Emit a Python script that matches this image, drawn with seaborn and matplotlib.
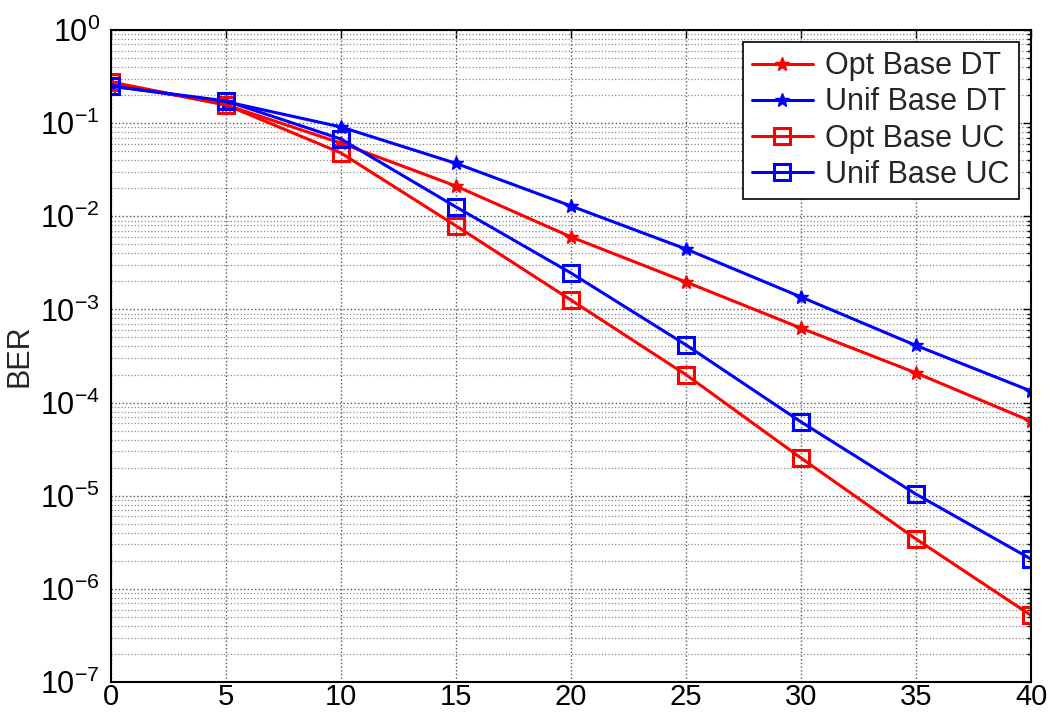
import numpy as np
import pandas as pd
import matplotlib
matplotlib.use("Agg")
import matplotlib.pyplot as plt
import seaborn as sns
from matplotlib.ticker import LogLocator, MultipleLocator, NullFormatter

snr = [0, 5, 10, 15, 20, 25, 30, 35, 40]
opt_dt = [0.27, 0.157, 0.061, 0.0211, 0.0060, 0.00197, 6.3e-4, 2.08e-4, 6.3e-5]
unif_dt = [0.25, 0.170, 0.091, 0.037, 0.0129, 0.00445, 1.36e-3, 4.1e-4, 1.33e-4]
opt_uc = [0.277, 0.157, 0.0478, 0.0079, 0.00126, 1.99e-4, 2.54e-5, 3.43e-6, 5.2e-7]
unif_uc = [0.25, 0.173, 0.0675, 0.0126, 0.00246, 4.16e-4, 6.2e-5, 1.04e-5, 2.09e-6]
labels = ["Opt Base DT", "Unif Base DT", "Opt Base UC", "Unif Base UC"]

sns.set_style("white")
plt.rcParams['font.family'] = ['Liberation Sans', 'DejaVu Sans']
plt.rcParams['mathtext.fontset'] = 'custom'
plt.rcParams['mathtext.rm'] = 'Liberation Sans'
plt.rcParams['mathtext.it'] = 'Liberation Sans'

fig = plt.figure(figsize=(10.56, 7.19), dpi=100)
ax = fig.add_axes([111/1056, 1-682/719, (1031-111)/1056, (682-30)/719])

series = [
    (opt_dt, labels[0], 'red', '*'),
    (unif_dt, labels[1], 'blue', '*'),
    (opt_uc, labels[2], 'red', 's'),
    (unif_uc, labels[3], 'blue', 's'),
]
for vals, lab, col, mk in series:
    df = pd.DataFrame({"SNR": snr, "BER": vals})
    if mk == 's':
        sns.lineplot(data=df, x="SNR", y="BER", ax=ax, color=col, marker='s',
                     markersize=11, markerfacecolor='none', markeredgecolor=col,
                     markeredgewidth=2.2, linewidth=2.2, label=lab)
    else:
        sns.lineplot(data=df, x="SNR", y="BER", ax=ax, color=col, marker='*',
                     markersize=10, markerfacecolor=col, markeredgecolor=col,
                     markeredgewidth=1.0, linewidth=2.2, label=lab)

ax.set_yscale('log')
ax.set_xlim(0, 40)
ax.set_ylim(1e-7, 1)
ax.xaxis.set_major_locator(MultipleLocator(5))
ax.yaxis.set_major_locator(LogLocator(base=10, numticks=20))
ax.yaxis.set_minor_locator(LogLocator(base=10, subs=np.arange(2, 10), numticks=100))
ax.yaxis.set_minor_formatter(NullFormatter())

ax.grid(True, which='major', axis='both', linestyle=':', color='0.35', linewidth=1.0)
ax.grid(True, which='minor', axis='y', linestyle=':', color='0.55', linewidth=0.9)

ax.tick_params(axis='both', which='both', direction='in', top=True, right=True,
               colors='black', width=1.0)
ax.tick_params(axis='y', which='major', labelsize=22, pad=8)
ax.tick_params(axis='x', which='major', labelsize=21, pad=1)
ax.tick_params(axis='both', which='major', length=6)
ax.tick_params(axis='y', which='minor', length=3)

for sp in ax.spines.values():
    sp.set_color('black')
    sp.set_linewidth(1.5)

ax.set_xlabel("")
ax.set_ylabel("BER", fontsize=22, labelpad=4)

leg = ax.legend(loc='upper right', fontsize=22, frameon=True, fancybox=False,
                edgecolor='black', framealpha=1, borderaxespad=0.4,
                labelspacing=0.2, handlelength=2.0, handletextpad=0.4,
                borderpad=0.3)
leg.get_frame().set_linewidth(1.2)

fig.savefig("out.png", dpi=100)
